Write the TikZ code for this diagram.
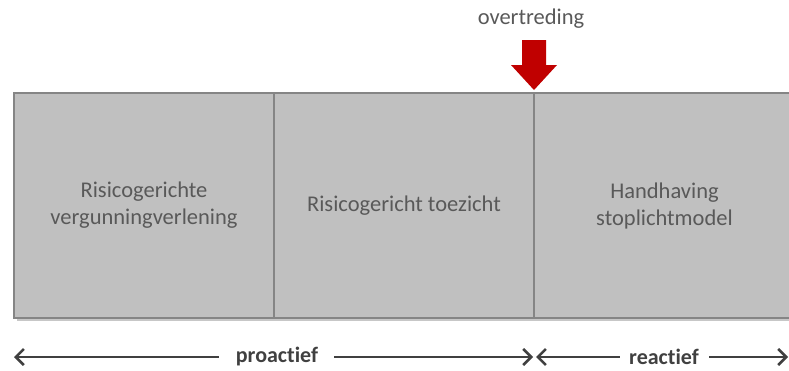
\documentclass[tikz,border=0pt]{standalone}
\usepackage{fontspec}
\setmainfont[Ligatures=NoCommon]{Carlito}
\usetikzlibrary{arrows.meta}
\definecolor{boxfill}{HTML}{C0C0C0}
\definecolor{boxline}{HTML}{858585}
\definecolor{txtgray}{HTML}{595959}
\definecolor{arrowred}{HTML}{C00000}
\definecolor{darkline}{HTML}{404040}
\tikzset{
  phase/.style={draw=boxline, line width=2pt, fill=boxfill, minimum height=225pt, inner sep=0pt, outer sep=0pt, text=txtgray, font=\fontsize{22.5}{27}\selectfont, align=center},
  shade/.style={fill=black!22, draw=none, minimum height=225pt, inner sep=0pt, outer sep=0pt},
  axislabel/.style={text=darkline, font=\fontsize{22}{26}\selectfont\bfseries, inner sep=0pt},
  axisline/.style={draw=darkline, line width=2.6pt, -{Straight Barb[length=8pt,width=16pt,line width=2.6pt]}}
}
\begin{document}
\begin{tikzpicture}[x=1pt,y=-1pt]
\useasboundingbox (0,0) rectangle (789,370);
% shadow
\node[shade, minimum width=781pt] at (407,208) {};
% boxes
\node[phase, minimum width=260pt] (b1) at (144,205.5) {Risicogerichte\\vergunningverlening};
\node[phase, minimum width=260pt] (b2) at (404,205.5) {Risicogericht toezicht};
\node[phase, minimum width=261pt] (b3) at (664.5,205.5) {Handhaving\\stoplichtmodel};
% red arrow
\node[text=txtgray, font=\fontsize{22.5}{26}\selectfont] (ov) at (531,19) {overtreding};
\coordinate (tip) at (534,90);
\fill[arrowred] (522,40) -- (546,40) -- (546,65) -- (557,65) -- (tip) -- (511,65) -- (522,65) -- cycle;
% bottom axis
\node[axislabel] (pro) at (277,357) {proactief};
\node[axislabel] (rea) at (664,357) {reactief};
\coordinate (l0) at (14,357);
\coordinate (l1) at (533,357);
\coordinate (r0) at (536,357);
\coordinate (r1) at (788,357);
\draw[axisline] ([xshift=-17pt]pro.west) -- (l0);
\draw[axisline] ([xshift=16pt]pro.east) -- (l1);
\draw[axisline] ([xshift=-9pt]rea.west) -- (r0);
\draw[axisline] ([xshift=10pt]rea.east) -- (r1);
\end{tikzpicture}
\end{document}
